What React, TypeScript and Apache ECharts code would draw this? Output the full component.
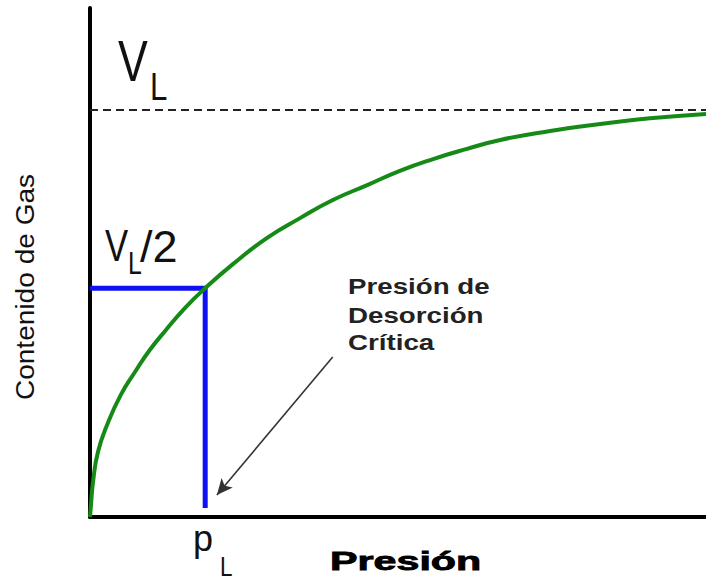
import React, { useEffect, useRef } from "react";
import * as echarts from "echarts";

// Isotherm (pressure in % of axis length, gas content in % of VL)
const pressure = [0, 0.16, 0.49, 1.3, 2.9, 5.0, 7.3, 9.7, 12.2, 15.4, 18.7, 23.2, 28.7, 34.1, 39.5, 45.0, 50.3, 55.7, 61.2, 66.6, 74.7, 82.8, 90.9, 100];
const gasContent = [0, 3.0, 8.6, 16.0, 23.1, 30.0, 35.6, 41.0, 45.7, 51.3, 56.2, 62.1, 68.5, 73.4, 77.9, 81.5, 85.0, 87.9, 90.4, 92.6, 94.8, 96.5, 97.9, 99.0];

const langmuirVolume = 100; // VL
const langmuirPressure = 18.7; // pL
const halfVolume = 56.2; // VL/2 level as drawn
const plLineBottom = 2.2;
const arrowFrom = [39.4, 39.3];
const arrowTo = [20.6, 5.4];

const xMax = 100;
const yMax = 125;

const FONT = "'Liberation Sans', Arial, sans-serif";

export default function App() {
  const ref = useRef<HTMLDivElement>(null);
  useEffect(() => {
    if (!ref.current) return;
    const chart = echarts.init(ref.current, null, { renderer: "svg" });
    const curve = pressure.map((p, i) => [p, gasContent[i]]);
    const blue = [
      [0, halfVolume],
      [langmuirPressure, halfVolume],
      [langmuirPressure, plLineBottom],
    ];
    const txt = (text: string, x: number, y: number, size: number, opts: any = {}) => ({
      type: "text",
      x,
      y,
      scaleX: opts.scaleX ?? 1,
      rotation: opts.rotation ?? 0,
      silent: true,
      style: {
        text,
        fill: opts.fill ?? "#111",
        fontSize: size,
        fontFamily: FONT,
        fontWeight: opts.weight ?? "normal",
        align: opts.align ?? "left",
        verticalAlign: "middle",
        stroke: opts.stroke,
        lineWidth: opts.lineWidth ?? 0,
      },
    });
    chart.setOption({
      animation: false,
      backgroundColor: "#ffffff",
      grid: { left: 90, right: 0, top: 8, bottom: 65, containLabel: false },
      xAxis: {
        type: "value",
        min: 0,
        max: xMax,
        axisLine: { show: true, lineStyle: { color: "#000", width: 4 } },
        axisTick: { show: false },
        axisLabel: { show: false },
        splitLine: { show: false },
      },
      yAxis: {
        type: "value",
        min: 0,
        max: yMax,
        axisLine: { show: true, lineStyle: { color: "#000", width: 4 } },
        axisTick: { show: false },
        axisLabel: { show: false },
        splitLine: { show: false },
      },
      series: [
        {
          type: "line",
          name: "guides",
          data: blue,
          symbol: "none",
          clip: false,
          lineStyle: { color: "#1010f0", width: 5 },
          markLine: {
            silent: true,
            symbol: ["none", "none"],
            label: { show: false },
            lineStyle: { color: "#222", width: 2, type: [8, 5] },
            data: [{ yAxis: langmuirVolume }],
          },
        },
        {
          type: "line",
          name: "arrow",
          data: [],
          markLine: {
            silent: true,
            symbol: ["none", "arrow"],
            symbolSize: [11, 16],
            label: { show: false },
            lineStyle: { color: "#333", width: 1.6, type: "solid" },
            data: [[{ coord: arrowFrom }, { coord: arrowTo }]],
          },
        },
        {
          type: "line",
          name: "isotherm",
          data: curve,
          symbol: "none",
          smooth: 0.5,
          clip: false,
          lineStyle: { color: "#168a16", width: 4 },
        },
      ],
      graphic: [
        txt("V", 118, 61, 58, { scaleX: 0.77 }),
        txt("L", 150, 86, 39, { scaleX: 0.8 }),
        txt("V", 105, 246, 45, { scaleX: 0.77 }),
        txt("L", 128, 264, 31, { scaleX: 0.8 }),
        txt("/2", 140, 246, 45),
        txt("p", 193, 538, 36),
        txt("L", 220, 566, 28, { scaleX: 0.8 }),
        txt("Presión", 330, 561, 25, { weight: "bold", scaleX: 1.65, fill: "#000", stroke: "#000", lineWidth: 0.8 }),
        txt("Presión de", 348, 286, 22, { weight: "bold", scaleX: 1.26, fill: "#222" }),
        txt("Desorción", 348, 315, 22, { weight: "bold", scaleX: 1.26, fill: "#222" }),
        txt("Crítica", 348, 342, 22, { weight: "bold", scaleX: 1.26, fill: "#222" }),
        txt("Contenido de Gas", 25, 287, 26, { rotation: Math.PI / 2, align: "center", scaleX: 1.08 }),
      ],
    });
    return () => chart.dispose();
  }, []);
  return (
    <div
      ref={ref}
      style={{ position: "fixed", left: 0, top: 0, width: 706, height: 582, background: "#fff" }}
    />
  );
}
